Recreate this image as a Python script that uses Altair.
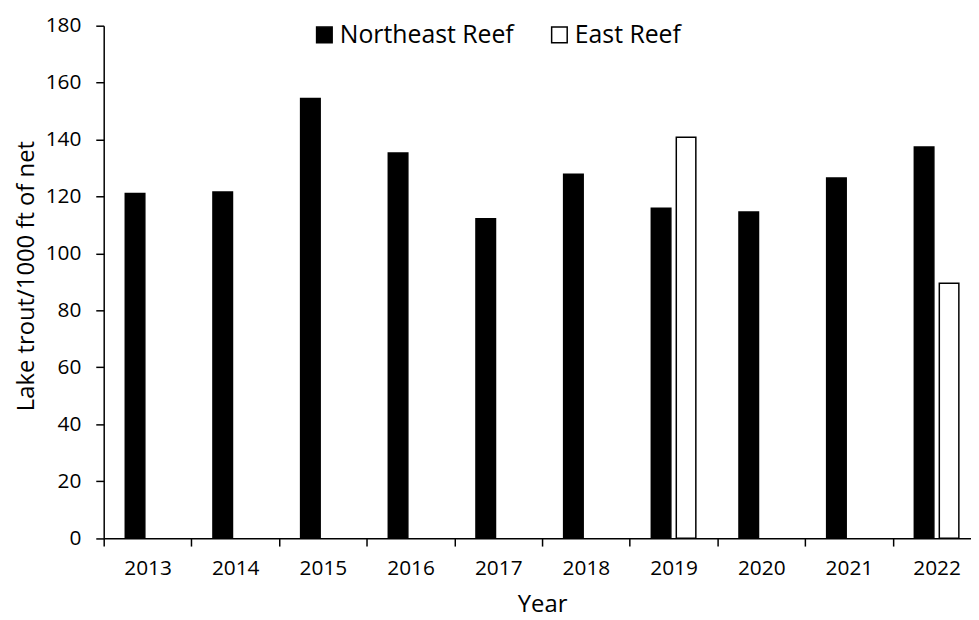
import altair as alt
import pandas as pd

years = ["2013", "2014", "2015", "2016", "2017", "2018", "2019", "2020", "2021", "2022"]
northeast = [121.1, 121.6, 154.4, 135.3, 112.2, 127.8, 115.9, 114.6, 126.5, 137.4]
east = [None, None, None, None, None, None, 140.8, None, None, 89.5]
series = ["Northeast Reef", "East Reef"]
y_ticks = [0, 20, 40, 60, 80, 100, 120, 140, 160, 180]

rows = []
for yr, v in zip(years, northeast):
    rows.append({"Year": yr, "Reef": series[0], "Value": v})
for yr, v in zip(years, east):
    if v is not None:
        rows.append({"Year": yr, "Reef": series[1], "Value": v})
df = pd.DataFrame(rows)

FONT = "Open Sans"

chart = (
    alt.Chart(df)
    .mark_bar(stroke="black", strokeWidth=1.5)
    .encode(
        x=alt.X(
            "Year:N",
            sort=years,
            scale=alt.Scale(domain=years, range=[0, 884], paddingInner=0, paddingOuter=0),
            axis=alt.Axis(
                title="Year",
                labelAngle=0,
                tickBand="extent",
                tickSize=8,
                tickWidth=1.5,
                tickColor="black",
                domainColor="black",
                domainWidth=1.5,
                labelFont=FONT,
                labelFontSize=21,
                labelColor="black",
                labelBaseline="alphabetic",
                labelPadding=29,
                titleFont=FONT,
                titleFontSize=24,
                titleFontWeight="normal",
                titleColor="black",
                titleX=442,
                titleY=73.5,
                titleBaseline="alphabetic",
                titleAlign="center",
                grid=False,
            ),
        ),
        xOffset=alt.XOffset(
            "Reef:N",
            sort=series,
            scale=alt.Scale(domain=series, paddingInner=0.218, paddingOuter=0.863),
        ),
        y=alt.Y(
            "Value:Q",
            scale=alt.Scale(domain=[0, 180], nice=False),
            axis=alt.Axis(
                values=y_ticks,
                title="Lake trout/1000 ft of net",
                grid=False,
                tickSize=8,
                tickWidth=1.5,
                tickColor="black",
                domainColor="black",
                domainWidth=1.5,
                labelFont=FONT,
                labelFontSize=21,
                labelColor="black",
                labelPadding=15,
                titleFont=FONT,
                titleFontSize=24,
                titleFontWeight="normal",
                titleColor="black",
                titleAngle=270,
                titleX=-70.5,
                titleY=252,
                titleBaseline="alphabetic",
                titleAlign="center",
            ),
        ),
        color=alt.Color(
            "Reef:N",
            sort=series,
            scale=alt.Scale(domain=series, range=["#000000", "#ffffff"]),
            legend=alt.Legend(
                title=None,
                orient="none",
                legendX=210,
                legendY=-3.5,
                direction="horizontal",
                symbolType="square",
                symbolSize=246,
                symbolStrokeColor="black",
                symbolStrokeWidth=1.5,
                labelFont=FONT,
                labelFontSize=25,
                labelColor="black",
                labelOffset=3,
                labelLimit=400,
                columnPadding=33,
                padding=0,
            ),
        ),
    )
    .properties(
        width=874.5,
        height=516.7,
        padding={"left": 96.5, "top": 15.3, "right": 0, "bottom": 80},
        autosize=alt.AutoSizeParams(type="none"),
    )
    .configure_view(strokeWidth=0)
)

chart.save("out.html", embed_options={"renderer": "svg", "actions": False})
